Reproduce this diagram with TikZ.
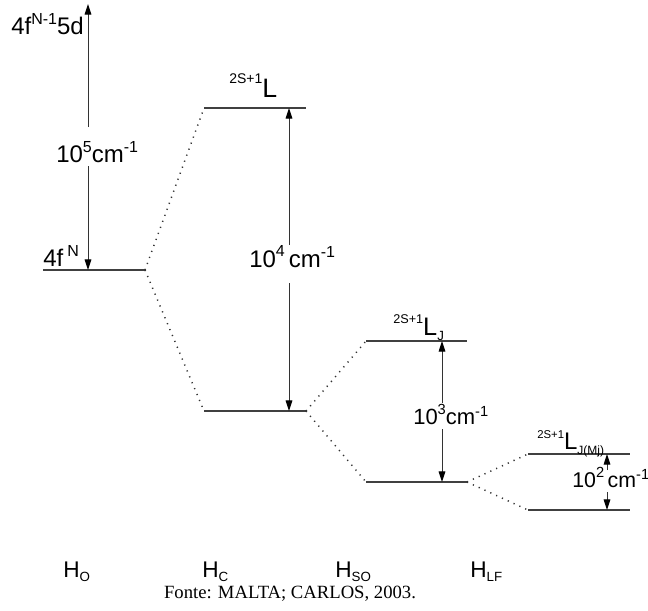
\documentclass[tikz,border=0pt]{standalone}
\usepackage{fontspec}
\setmainfont{Liberation Sans}
\newfontfamily\serifface{Liberation Serif}
\usetikzlibrary{arrows.meta}
\newcommand\Sup[3]{\raisebox{#1}{\fontsize{#2}{#2}\selectfont #3}}
\newcommand\fs[1]{\fontsize{#1}{#1}\selectfont}
\begin{document}
\begin{tikzpicture}[x=0.75pt,y=-0.75pt,
 level/.style={draw=black!75,line width=0.8pt},
 split/.style={draw=black!80,line width=1.1pt,dash pattern=on 0.9pt off 3.9pt},
 gaparrow/.style={draw=black!80,line width=0.75pt,-{Triangle[length=8pt,width=5pt,color=black]}},
 lab/.style={inner sep=0pt,anchor=base west,font=\fs{18}},
 ham/.style={inner sep=0pt,anchor=base west,font=\fs{17}},
]
\useasboundingbox (0,0) rectangle (648,610);
% ---------- H_O
\coordinate (O1) at (43,270);
\coordinate (O2) at (145,270);
\coordinate (Otop) at (88,4);
\coordinate (Oa) at (88,127);
\coordinate (Ob) at (88,166);
\coordinate (Obot) at (88,270);
\draw[level] (O1) -- (O2);
\draw[gaparrow] (Oa) -- (Otop);
\draw[gaparrow] (Ob) -- (Obot);
\node[lab] (ex) at (11,35) {4f\Sup{8pt}{12}{N-1}5d};
\node[lab] (g5) at (56,162) {10\Sup{7pt}{12}{5}cm\Sup{7pt}{12}{-1}};
\node[lab] (gs) at (43,266) {4f\,\Sup{7pt}{12}{N}};
% ---------- H_C
\coordinate (C1) at (204,108);
\coordinate (C2) at (306,108);
\coordinate (C3) at (204,411);
\coordinate (C4) at (306,411);
\coordinate (Ctop) at (289,108);
\coordinate (Ca) at (289,245);
\coordinate (Cb) at (289,283);
\coordinate (Cbot) at (289,411);
\draw[level] (C1) -- (C2);
\draw[level] (C3) -- (C4);
\draw[split] (O2) -- (C1);
\draw[split] (O2) -- (C3);
\draw[gaparrow] (Ca) -- (Ctop);
\draw[gaparrow] (Cb) -- (Cbot);
\node[lab] (lc) at (229,97) {\Sup{10pt}{10.5}{2S+1}\fs{20}L};
\node[lab] (g4) at (249,267) {10\Sup{8pt}{12}{4}\,cm\Sup{7pt}{12}{-1}};
% ---------- H_SO
\coordinate (S1) at (366,341);
\coordinate (S2) at (467,341);
\coordinate (S3) at (366,482);
\coordinate (S4) at (467,482);
\coordinate (Stop) at (442,341);
\coordinate (Sa) at (442,403);
\coordinate (Sb) at (442,429);
\coordinate (Sbot) at (442,482);
\draw[level] (S1) -- (S2);
\draw[level] (S3) -- (S4);
\draw[split] (C4) -- (S1);
\draw[split] (C4) -- (S3);
\draw[gaparrow] (Sa) -- (Stop);
\draw[gaparrow] (Sb) -- (Sbot);
\node[lab] (lso) at (393,335) {\Sup{9pt}{9.5}{2S+1}\fs{19}L\Sup{-4pt}{10}{J}};
\node[lab,font=\fs{16.5}] (g3) at (413,424) {10\Sup{7pt}{11}{3}cm\Sup{6pt}{11}{-1}};
% ---------- H_LF
\coordinate (L1) at (528,454);
\coordinate (L2) at (630,454);
\coordinate (L3) at (528,510);
\coordinate (L4) at (630,510);
\coordinate (Ltop) at (607,454);
\coordinate (La) at (607,470);
\coordinate (Lb) at (607,492);
\coordinate (Lbot) at (607,510);
\draw[level] (L1) -- (L2);
\draw[level] (L3) -- (L4);
\draw[split] (S4) -- (L1);
\draw[split] (S4) -- (L3);
\draw[gaparrow] (La) -- (Ltop);
\draw[gaparrow] (Lb) -- (Lbot);
\node[lab] (llf) at (537,449) {\Sup{8pt}{8.5}{2S+1}\fs{18}L\Sup{-4pt}{9}{J(Mj)}};
\node[lab,font=\fs{16}] (g2) at (572,487) {10\Sup{7pt}{11}{2}\,cm\Sup{6pt}{11}{-1}};
% ---------- Hamiltonians
\node[ham] (ho) at (63,577) {H\Sup{-3pt}{10}{O}};
\node[ham] (hc) at (202,577) {H\Sup{-3pt}{10}{C}};
\node[ham] (hso) at (335,577) {H\Sup{-3pt}{10}{SO}};
\node[ham] (hlf) at (470,577) {H\Sup{-3pt}{10}{LF}};
\node[inner sep=0pt,anchor=base,font=\serifface\fs{14}] (src) at (290,598) {Fonte: MALTA; CARLOS, 2003.};
\end{tikzpicture}
\end{document}
